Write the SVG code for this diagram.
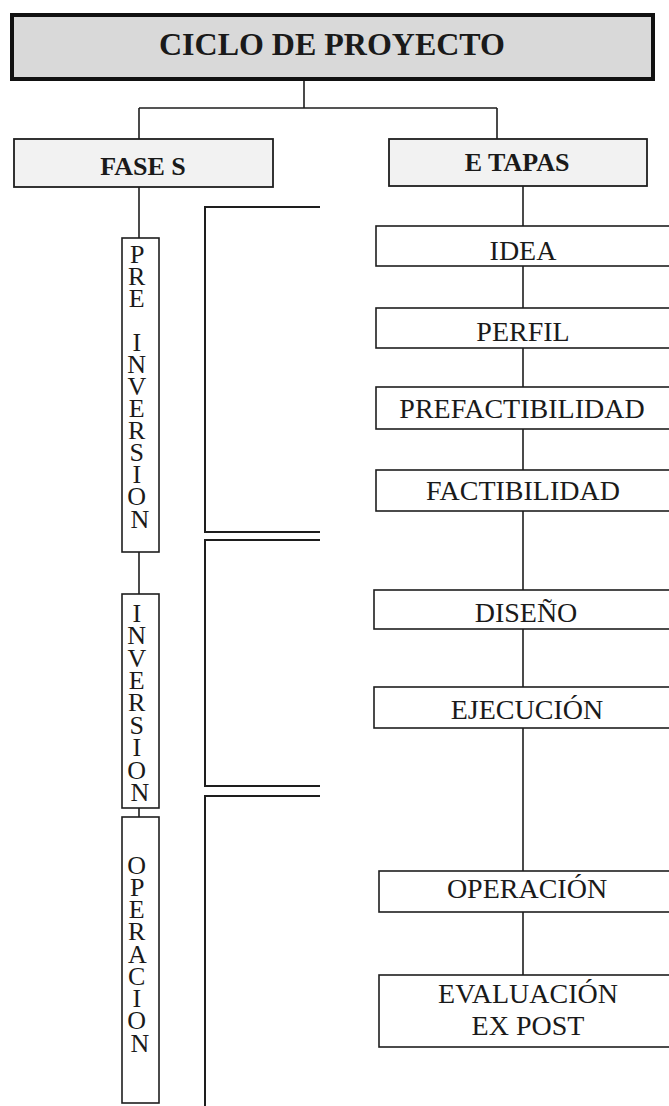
<svg xmlns="http://www.w3.org/2000/svg" width="669" height="1106" viewBox="0 0 669 1106">
<style>
  .ln { stroke: #1e1e1e; stroke-width: 1.6; fill: none; }
  .br { stroke: #1e1e1e; stroke-width: 2; fill: none; }
  .box { fill: #ffffff; stroke: #1e1e1e; stroke-width: 1.6; }
  .hdr { fill: #f2f2f2; stroke: #1e1e1e; stroke-width: 1.8; }
  .title { fill: #d9d9d9; stroke: #111; stroke-width: 4; }
  text { font-family: "Liberation Serif", "Times New Roman", serif; fill: #1a1a1a; }
  .t28 { font-size: 28px; text-anchor: middle; }
  .tb { font-size: 26px; font-weight: bold; text-anchor: middle; }
  .vt { font-size: 26px; text-anchor: middle; }
</style>

<g id="connectors">
  <path class="ln" d="M304,79 V108 M139,108 H497 M139,108 V139 M497,108 V139"/>
  <path class="ln" d="M139,187 V238 M139,552 V594 M139,808 V817"/>
  <path class="ln" d="M523,186 V226 M523,266 V308 M523,348 V387 M523,429 V470 M523,511 V590 M523,629 V687 M523,728 V871 M523,912 V975"/>
</g>

<g id="brackets">
  <path class="br" d="M320,207 H205 V532 H320"/>
  <path class="br" d="M320,540 H205 V786 H320"/>
  <path class="br" d="M320,796 H205 V1108"/>
</g>

<g id="title">
  <rect class="title" x="12" y="15" width="641" height="64"/>
  <text x="332" y="55" font-size="31" font-weight="bold" text-anchor="middle" textLength="346" lengthAdjust="spacingAndGlyphs">CICLO DE PROYECTO</text>
</g>

<g id="fases">
  <rect class="hdr" x="14" y="139" width="259" height="48"/>
  <text class="tb" x="143" y="175">FASE S</text>
</g>

<g id="etapas">
  <rect class="hdr" x="389" y="139" width="258" height="47"/>
  <text class="tb" x="517" y="171">E TAPAS</text>
</g>

<g id="pre-inversion">
  <rect class="box" x="122" y="238" width="37" height="314"/>
  <text class="vt">
    <tspan x="140" y="263">P</tspan>
    <tspan x="140" y="285">R</tspan>
    <tspan x="140" y="307">E</tspan>
    <tspan x="140" y="351">I</tspan>
    <tspan x="140" y="373">N</tspan>
    <tspan x="140" y="395">V</tspan>
    <tspan x="140" y="417">E</tspan>
    <tspan x="140" y="439">R</tspan>
    <tspan x="140" y="461">S</tspan>
    <tspan x="140" y="483">I</tspan>
    <tspan x="140" y="505">O</tspan>
    <tspan x="140" y="528">N</tspan>
  </text>
</g>

<g id="inversion">
  <rect class="box" x="122" y="594" width="37" height="214"/>
  <text class="vt">
    <tspan x="140" y="622">I</tspan>
    <tspan x="140" y="644">N</tspan>
    <tspan x="140" y="667">V</tspan>
    <tspan x="140" y="689">E</tspan>
    <tspan x="140" y="711">R</tspan>
    <tspan x="140" y="734">S</tspan>
    <tspan x="140" y="756">I</tspan>
    <tspan x="140" y="779">O</tspan>
    <tspan x="140" y="801">N</tspan>
  </text>
</g>

<g id="operacion-fase">
  <rect class="box" x="122" y="817" width="37" height="286"/>
  <text class="vt">
    <tspan x="140" y="874">O</tspan>
    <tspan x="140" y="896">P</tspan>
    <tspan x="140" y="918">E</tspan>
    <tspan x="140" y="940">R</tspan>
    <tspan x="140" y="963">A</tspan>
    <tspan x="140" y="985">C</tspan>
    <tspan x="140" y="1007">I</tspan>
    <tspan x="140" y="1029">O</tspan>
    <tspan x="140" y="1052">N</tspan>
  </text>
</g>

<g id="idea">
  <rect class="box" x="376" y="226" width="296" height="40"/>
  <text class="t28" x="523" y="260">IDEA</text>
</g>
<g id="perfil">
  <rect class="box" x="376" y="308" width="296" height="40"/>
  <text class="t28" x="523" y="341">PERFIL</text>
</g>
<g id="prefactibilidad">
  <rect class="box" x="376" y="387" width="296" height="42"/>
  <text class="t28" x="522" y="418">PREFACTIBILIDAD</text>
</g>
<g id="factibilidad">
  <rect class="box" x="376" y="470" width="296" height="41"/>
  <text class="t28" x="523" y="500">FACTIBILIDAD</text>
</g>
<g id="diseno">
  <rect class="box" x="374" y="590" width="298" height="39"/>
  <text class="t28" x="526" y="622">DISEÑO</text>
</g>
<g id="ejecucion">
  <rect class="box" x="374" y="687" width="298" height="41"/>
  <text class="t28" x="527" y="719">EJECUCIÓN</text>
</g>
<g id="operacion">
  <rect class="box" x="379" y="871" width="293" height="41"/>
  <text class="t28" x="527" y="898">OPERACIÓN</text>
</g>
<g id="evaluacion">
  <rect class="box" x="379" y="975" width="293" height="72"/>
  <text class="t28" x="528" y="1003">EVALUACIÓN</text>
  <text class="t28" x="528" y="1035">EX POST</text>
</g>
</svg>
